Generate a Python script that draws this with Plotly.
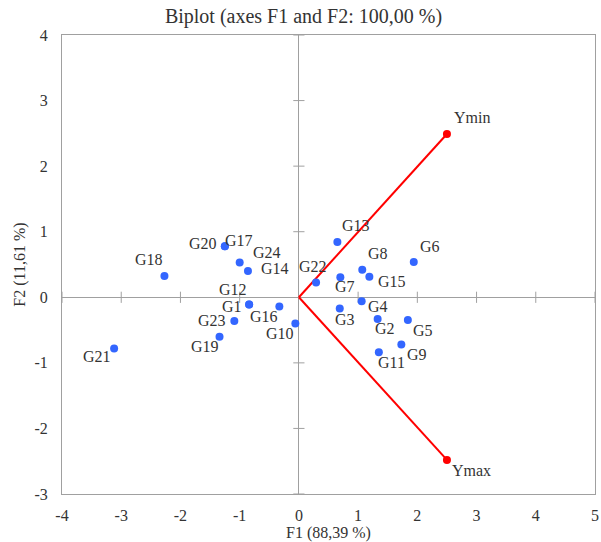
import plotly.graph_objects as go

# Observations (genotypes)
names = ["G1", "G2", "G3", "G4", "G5", "G6", "G7", "G8", "G9", "G10", "G11", "G12",
         "G13", "G14", "G15", "G16", "G17", "G18", "G19", "G20", "G21", "G22", "G23", "G24"]
f1 = [-0.84, 1.33, 0.69, 1.06, 1.84, 1.94, 0.70, 1.07, 1.73, -0.06, 1.35, -0.84,
      0.65, -0.86, 1.19, -0.33, -1.25, -2.27, -1.34, -1.25, -3.12, 0.29, -1.09, -1.00]
f2 = [-0.11, -0.33, -0.17, -0.06, -0.345, 0.54, 0.305, 0.42, -0.72, -0.40, -0.84, -0.11,
      0.845, 0.40, 0.315, -0.14, 0.78, 0.325, -0.60, 0.78, -0.78, 0.225, -0.36, 0.53]

# Variables
var_names = ["Ymin", "Ymax"]
var_f1 = [2.50, 2.50]
var_f2 = [2.49, -2.48]

x_ticks = [-4, -3, -2, -1, 0, 1, 2, 3, 4, 5]
y_ticks = [-3, -2, -1, 0, 1, 2, 3, 4]
x_tick_text = ["-4", "-3", "-2", "-1", "0", "1", "2", "3", "4", "5"]
y_tick_text = ["-3", "-2", "-1", "0", "1", "2", "3", "4"]

# label offsets in pixels (dx, dy screen-down)
label_offsets = {
    "G1": (-17, 2), "G2": (7, 10), "G3": (5, 11), "G4": (16, 5), "G5": (15, 11),
    "G6": (16, -15), "G7": (5, 9), "G8": (16, -16), "G9": (16, 10), "G10": (-15, 10),
    "G11": (13, 10), "G12": (-16, -15), "G13": (19, -16), "G14": (27, -3),
    "G15": (23, 5), "G16": (-15, 10), "G17": (14, -6), "G18": (-15, -16),
    "G19": (-15, 10), "G20": (-22, -3), "G21": (-17, 8), "G22": (-3, -16),
    "G23": (-22, 0), "G24": (27, -10),
}
var_offsets = {"Ymin": (25, -17), "Ymax": (25, 11)}

FONT = "Liberation Serif, Times New Roman, serif"
TXT = "#333333"
GRID = "#a0a0a0"

fig = go.Figure()

# tick marks drawn across the zero lines
fig.add_trace(go.Scatter(
    x=[t for t in x_ticks if t != 0], y=[0] * (len(x_ticks) - 1), mode="markers",
    marker=dict(symbol="line-ns", size=8, line=dict(color=GRID, width=1)),
    hoverinfo="skip", showlegend=False))
fig.add_trace(go.Scatter(
    x=[0] * (len(y_ticks) - 1), y=[t for t in y_ticks if t != 0], mode="markers",
    marker=dict(symbol="line-ew", size=8, line=dict(color=GRID, width=1)),
    hoverinfo="skip", showlegend=False))

# variable vectors
for vx, vy in zip(var_f1, var_f2):
    fig.add_trace(go.Scatter(
        x=[0, vx], y=[0, vy], mode="lines", line=dict(color="#ff0000", width=2),
        hoverinfo="skip", showlegend=False))
fig.add_trace(go.Scatter(
    x=var_f1, y=var_f2, mode="markers", marker=dict(color="#ff0000", size=8),
    showlegend=False))

# observations
fig.add_trace(go.Scatter(
    x=f1, y=f2, mode="markers", marker=dict(color="#3366ff", size=8),
    text=names, showlegend=False))

for n, x, y in zip(names, f1, f2):
    dx, dy = label_offsets[n]
    fig.add_annotation(x=x, y=y, text=n, showarrow=False, xshift=dx, yshift=-dy,
                       font=dict(family=FONT, size=16, color=TXT))
for n, x, y in zip(var_names, var_f1, var_f2):
    dx, dy = var_offsets[n]
    fig.add_annotation(x=x, y=y, text=n, showarrow=False, xshift=dx, yshift=-dy,
                       font=dict(family=FONT, size=16, color=TXT))

axis_common = dict(
    showgrid=False, zeroline=True, zerolinecolor=GRID, zerolinewidth=1,
    showline=True, linecolor=GRID, linewidth=1, mirror=True, automargin=False,
    ticks="outside", tickcolor="rgba(0,0,0,0)",
    tickfont=dict(family=FONT, size=16, color=TXT),
)

fig.update_layout(
    template="none",
    width=601, height=542,
    margin=dict(l=62, r=6, t=35, b=48),
    paper_bgcolor="white", plot_bgcolor="white",
    title=dict(text="Biplot (axes F1 and F2: 100,00 %)", x=0.505, xref="container",
               xanchor="center", y=1 - 16 / 542, yanchor="middle", automargin=False,
               font=dict(family=FONT, size=20, color=TXT)),
    xaxis=dict(range=[-4, 5], tickvals=x_ticks, ticktext=x_tick_text, ticklen=7,
               title=dict(text="F1 (88,39 %)", standoff=7,
                          font=dict(family=FONT, size=16, color=TXT)),
               **axis_common),
    yaxis=dict(range=[-3, 4], tickvals=y_ticks, ticktext=y_tick_text, ticklen=10,
               title=dict(text="F2 (11,61 %)", standoff=4,
                          font=dict(family=FONT, size=16, color=TXT)),
               **axis_common),
)

fig.write_html("out.html", config={"displayModeBar": False},
               post_script="document.body.style.margin='0';")
